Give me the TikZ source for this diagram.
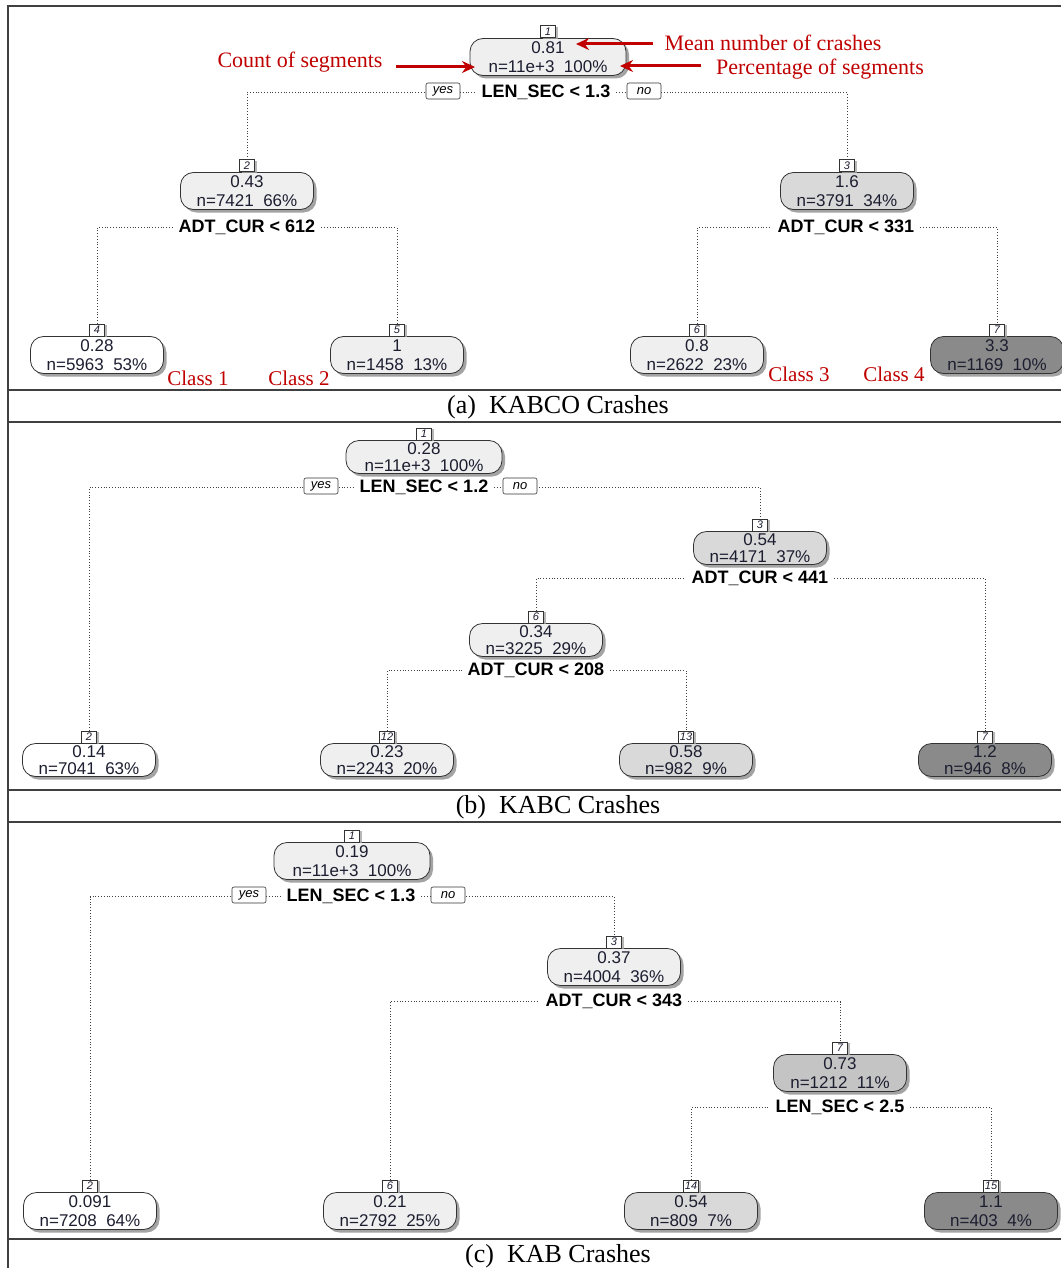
\documentclass[tikz,border=0pt]{standalone}
\usepackage{fontspec}
\setmainfont{Liberation Serif}
\setsansfont{Liberation Sans}
\usetikzlibrary{shadows,arrows.meta}
\pgfdeclarelayer{bg}
\pgfsetlayers{bg,main}
\definecolor{g0}{RGB}{255,255,255}
\definecolor{g1}{RGB}{239,239,239}
\definecolor{g2}{RGB}{217,217,217}
\definecolor{g3}{RGB}{196,196,196}
\definecolor{g4}{RGB}{138,138,138}
\definecolor{txt}{RGB}{28,30,48}
\definecolor{annred}{RGB}{192,0,0}
\newcommand\fsz[2]{\fontsize{#1}{#2}\selectfont}
\tikzset{
  tbox/.style={draw=black!80, line width=0.8pt, rounded corners=13pt,
    minimum width=133pt, minimum height=37pt, inner sep=0pt, align=center,
    font=\sffamily\fsz{17}{19}, text=txt,
    drop shadow={shadow xshift=3pt, shadow yshift=-3pt, fill=black!45, opacity=0.8}},
  wide/.style={minimum width=156pt},
  bh/.style={minimum height=33pt, font=\sffamily\fsz{17}{17}},
  numbox/.style={draw=black!80, line width=0.6pt, fill=white, inner sep=0pt,
    minimum width=15pt, minimum height=12pt, font=\sffamily\itshape\fsz{11}{11}, text=txt,
    drop shadow={shadow xshift=2pt, shadow yshift=-1pt, fill=black!35, opacity=0.8}},
  splitlab/.style={fill=white, inner xsep=6pt, inner ysep=1pt, yshift=-1.5pt,
    font=\sffamily\bfseries\fsz{18}{18}},
  yn/.style={draw=black!80, line width=0.6pt, fill=white, rounded corners=2pt, inner sep=0pt,
    minimum width=34pt, minimum height=16pt, font=\sffamily\itshape\fsz{13}{13}},
  dotl/.style={draw=black!75, line width=0.8pt, dotted},
  frame/.style={draw=black!75, line width=1.6pt},
  ann/.style={text=annred, font=\fsz{22}{22}, yshift=-1.5pt},
  cls/.style={text=annred, font=\fsz{21}{21}},
  captxt/.style={font=\fsz{26}{26}},
  annarrow/.style={draw=annred, line width=3pt, -{Stealth[length=13pt,width=12pt]}}
}
\newcommand\tnode[8][]{%
  \node[tbox,fill=#5,#1] (#2) at (#3,#4) {#7\\#8};
  \node[numbox, anchor=south] (#2l) at (#2.north) {#6};
}
\begin{document}
\begin{tikzpicture}[x=1pt,y=-1pt]
\useasboundingbox (0,0) rectangle (1061,1268);
\begin{pgfonlayer}{bg}
  \fill[white] (0,0) rectangle (1061,1268);
\end{pgfonlayer}
% frame
\draw[frame] (8,1268) -- (8,6) -- (1061,6);
\draw[frame] (8,390) -- (1061,390);
\draw[frame] (8,422) -- (1061,422);
\draw[frame] (8,790) -- (1061,790);
\draw[frame] (8,822) -- (1061,822);
\draw[frame] (8,1239) -- (1061,1239);

% ---------------- Panel (a)
\tnode[wide]{a1}{548}{57}{g1}{1}{0.81}{n=11e+3~~100\%}
\node[splitlab] (a1s) at (546,91) {LEN\_SEC < 1.3};
\node[yn] (a1y) at (443,91) {yes};
\node[yn] (a1n) at (644,91) {no};
\tnode{a2}{247}{191}{g1}{2}{0.43}{n=7421~~66\%}
\node[splitlab] (a2s) at (247,226) {ADT\_CUR < 612};
\tnode{a3}{847}{191}{g2}{3}{1.6}{n=3791~~34\%}
\node[splitlab] (a3s) at (846,226) {ADT\_CUR < 331};
\tnode{a4}{97}{355}{g0}{4}{0.28}{n=5963~~53\%}
\tnode{a5}{397}{355}{g1}{5}{1}{n=1458~~13\%}
\tnode{a6}{697}{355}{g1}{6}{0.8}{n=2622~~23\%}
\tnode{a7}{997}{355}{g4}{7}{3.3}{n=1169~~10\%}
\begin{pgfonlayer}{bg}
  \draw[dotl] (a2l.north) |- (a1s.west);
  \draw[dotl] (a1s.east) -| (a3l.north);
  \draw[dotl] (a4l.north) |- (a2s.west);
  \draw[dotl] (a2s.east) -| (a5l.north);
  \draw[dotl] (a6l.north) |- (a3s.west);
  \draw[dotl] (a3s.east) -| (a7l.north);
\end{pgfonlayer}
% annotations
\node[ann] (cnt) at (300,61) {Count of segments};
\node[ann] (mean) at (773,41) {Mean number of crashes};
\node[ann] (pct) at (820,68) {Percentage of segments};
\coordinate (cntTip) at (475,67);
\coordinate (meanTip) at (576,44);
\coordinate (pctTip) at (620,66);
\draw[annarrow] ([xshift=10pt]cnt.east |- cntTip) -- (cntTip);
\draw[annarrow] ([xshift=-8pt]mean.west |- meanTip) -- (meanTip);
\draw[annarrow] ([xshift=-12pt]pct.west |- pctTip) -- (pctTip);
\node[cls] (cl1) at (198,378) {Class 1};
\node[cls] (cl2) at (299,378) {Class 2};
\node[cls] (cl3) at (799,374) {Class 3};
\node[cls] (cl4) at (894,374) {Class 4};
\node[captxt] (capa) at (558,407) {(a)~~KABCO Crashes};

% ---------------- Panel (b)
\tnode[wide,bh]{b1}{424}{457}{g1}{1}{0.28}{n=11e+3~~100\%}
\node[splitlab] (b1s) at (424,486) {LEN\_SEC < 1.2};
\node[yn] (b1y) at (321,486) {yes};
\node[yn] (b1n) at (520,486) {no};
\tnode[bh]{b3}{760}{548}{g2}{3}{0.54}{n=4171~~37\%}
\node[splitlab] (b3s) at (760,577) {ADT\_CUR < 441};
\tnode[bh]{b6}{536}{640}{g1}{6}{0.34}{n=3225~~29\%}
\node[splitlab] (b6s) at (536,669) {ADT\_CUR < 208};
\tnode[bh]{b2}{89}{760}{g0}{2}{0.14}{n=7041~~63\%}
\tnode[bh]{b12}{387}{760}{g1}{12}{0.23}{n=2243~~20\%}
\tnode[bh]{b13}{686}{760}{g2}{13}{0.58}{n=982~~9\%}
\tnode[bh]{b7}{985}{760}{g4}{7}{1.2}{n=946~~8\%}
\begin{pgfonlayer}{bg}
  \draw[dotl] (b2l.north) |- (b1s.west);
  \draw[dotl] (b1s.east) -| (b3l.north);
  \draw[dotl] (b6l.north) |- (b3s.west);
  \draw[dotl] (b3s.east) -| (b7l.north);
  \draw[dotl] (b12l.north) |- (b6s.west);
  \draw[dotl] (b6s.east) -| (b13l.north);
\end{pgfonlayer}
\node[captxt] (capb) at (558,807) {(b)~~KABC Crashes};

% ---------------- Panel (c)
\tnode[wide]{c1}{352}{861}{g1}{1}{0.19}{n=11e+3~~100\%}
\node[splitlab] (c1s) at (351,895) {LEN\_SEC < 1.3};
\node[yn] (c1y) at (249,895) {yes};
\node[yn] (c1n) at (448,895) {no};
\tnode{c3}{614}{967}{g1}{3}{0.37}{n=4004~~36\%}
\node[splitlab] (c3s) at (614,1000) {ADT\_CUR < 343};
\tnode{c7}{840}{1073}{g3}{7}{0.73}{n=1212~~11\%}
\node[splitlab] (c7s) at (840,1106) {LEN\_SEC < 2.5};
\tnode{c2}{90}{1211}{g0}{2}{0.091}{n=7208~~64\%}
\tnode{c6}{390}{1211}{g1}{6}{0.21}{n=2792~~25\%}
\tnode{c14}{691}{1211}{g2}{14}{0.54}{n=809~~7\%}
\tnode{c15}{991}{1211}{g4}{15}{1.1}{n=403~~4\%}
\begin{pgfonlayer}{bg}
  \draw[dotl] (c2l.north) |- (c1s.west);
  \draw[dotl] (c1s.east) -| (c3l.north);
  \draw[dotl] (c6l.north) |- (c3s.west);
  \draw[dotl] (c3s.east) -| (c7l.north);
  \draw[dotl] (c14l.north) |- (c7s.west);
  \draw[dotl] (c7s.east) -| (c15l.north);
\end{pgfonlayer}
\node[captxt] (capc) at (558,1256) {(c)~~KAB Crashes};
\end{tikzpicture}
\end{document}
